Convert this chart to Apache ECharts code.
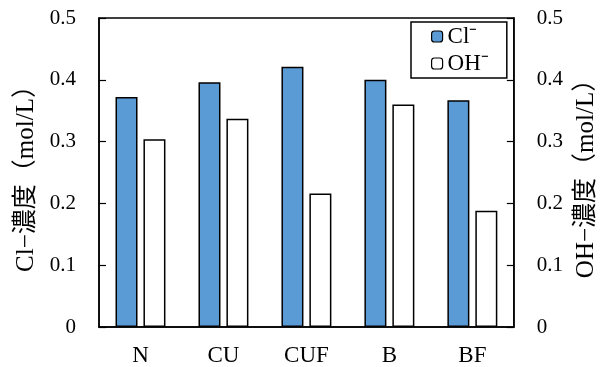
<!DOCTYPE html>
<html>
<head>
<meta charset="utf-8">
<script src="https://cdn.jsdelivr.net/npm/echarts@6/dist/echarts.min.js"></script>
<style>
  html, body { margin: 0; padding: 0; background: #fff; }
  #chart { width: 607px; height: 367px; }
</style>
</head>
<body>
<div id="chart"></div>
<script>
// Sample groups along the x axis
const categories = ['N', 'CU', 'CUF', 'B', 'BF'];
// Ion concentrations (mol/L)
const clValues = [0.372, 0.396, 0.421, 0.400, 0.367];
const ohValues = [0.304, 0.337, 0.216, 0.360, 0.188];
// Value axis ticks
const yTicks = [0, 0.1, 0.2, 0.3, 0.4, 0.5];

const FONT = '"Liberation Serif", "Times New Roman", "Noto Sans CJK JP", serif';

const chart = echarts.init(document.getElementById('chart'));

function valueAxis(position, name, nameGap) {
  return {
    type: 'value',
    position: position,
    min: yTicks[0],
    max: yTicks[yTicks.length - 1],
    interval: yTicks[1] - yTicks[0],
    name: name,
    nameLocation: 'middle',
    nameGap: nameGap,
    nameTextStyle: { fontFamily: FONT, fontSize: 25, color: '#000' },
    axisLine: { show: true, lineStyle: { color: '#000', width: 1.5 } },
    axisTick: { show: true, inside: true, length: 7, lineStyle: { color: '#000', width: 1.2 } },
    axisLabel: {
      fontFamily: FONT, fontSize: 21, color: '#000', margin: 23,
      formatter: v => (v === 0 ? '0' : v.toFixed(1))
    },
    splitLine: { show: false }
  };
}

chart.setOption({
  animation: false,
  grid: {
    left: 99, right: 92, top: 18, bottom: 40,
    show: true, borderColor: '#000', borderWidth: 1.5
  },
  legend: {
    orient: 'vertical',
    left: 411, top: 22,
    padding: [3, 18, 3, 20],
    itemGap: 4,
    itemWidth: 11, itemHeight: 11,
    borderColor: '#000', borderWidth: 1.5,
    textStyle: { fontFamily: FONT, fontSize: 23, color: '#000' },
    data: [
      { name: 'Cl⁻', itemStyle: { color: '#5B9BD5', borderColor: '#000', borderWidth: 1.2 } },
      { name: 'OH⁻', itemStyle: { color: '#fff', borderColor: '#000', borderWidth: 1.2 } }
    ]
  },
  xAxis: {
    type: 'category',
    data: categories,
    axisLine: { show: true, lineStyle: { color: '#000', width: 1.5 } },
    axisTick: { show: false },
    axisLabel: { fontFamily: FONT, fontSize: 23, color: '#000', margin: 17 }
  },
  yAxis: [
    valueAxis('left', 'Cl−濃度（mol/L）', 57),
    valueAxis('right', 'OH−濃度（mol/L）', 60)
  ],
  series: [
    {
      name: 'Cl⁻', type: 'bar', yAxisIndex: 0,
      data: clValues, barWidth: 22, barGap: '27%',
      itemStyle: { color: '#5B9BD5', borderColor: '#000', borderWidth: 1.5 }
    },
    {
      name: 'OH⁻', type: 'bar', yAxisIndex: 1,
      data: ohValues, barWidth: 22, barGap: '27%',
      itemStyle: { color: '#fff', borderColor: '#000', borderWidth: 1.5 }
    }
  ]
});
</script>
</body>
</html>
